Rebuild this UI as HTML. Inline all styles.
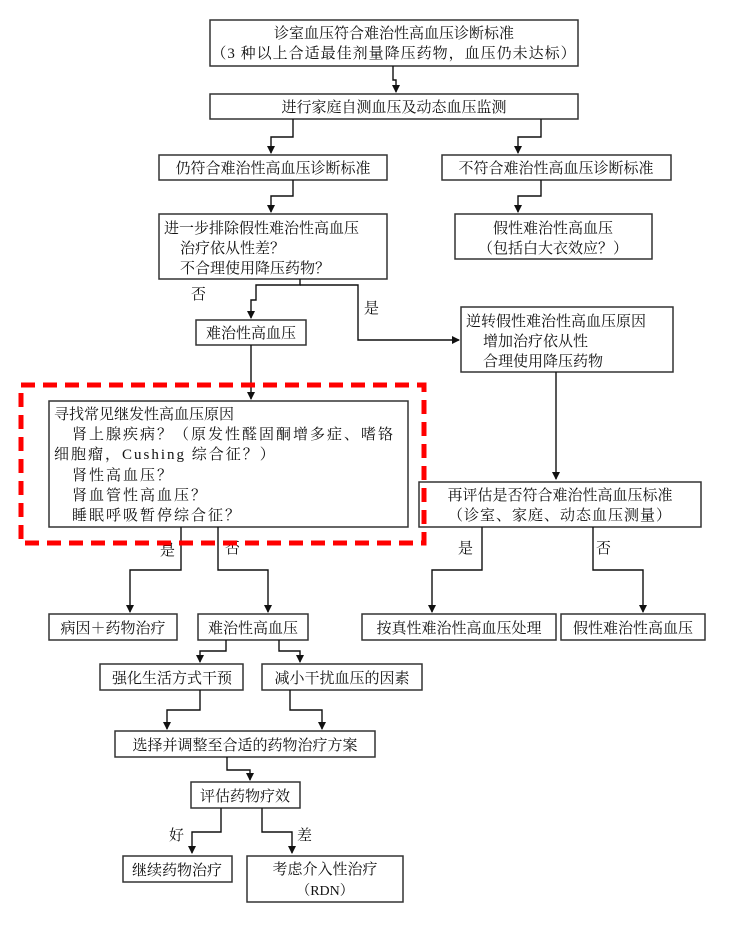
<!DOCTYPE html>
<html><head><meta charset="utf-8"><style>
html,body{margin:0;padding:0;background:#fff;}
svg{display:block;}
text{font-family:"Liberation Serif","Noto Serif CJK SC",serif;fill:#111;font-size:15px;}
.w{letter-spacing:2px;}
.b{fill:#fff;stroke:#333;stroke-width:1.5;}
.l{fill:none;stroke:#111;stroke-width:1.4;}
</style></head><body>
<svg width="744" height="928" viewBox="0 0 744 928" xmlns="http://www.w3.org/2000/svg">
<defs><marker id="a" markerWidth="8" markerHeight="8" refX="7" refY="4" orient="auto" markerUnits="userSpaceOnUse"><path d="M0,0 L8,4 L0,8 z" fill="#111"/></marker></defs>

<rect class="b" x="210" y="20" width="368" height="46"/>
<text x="394" y="38" text-anchor="middle">诊室血压符合难治性高血压诊断标准</text>
<text x="394" y="58" text-anchor="middle" style="letter-spacing:1px">（3 种以上合适最佳剂量降压药物，血压仍未达标）</text>
<path class="l" d="M393,66 V80 H396 V92" marker-end="url(#a)"/>

<rect class="b" x="210" y="94" width="368" height="25"/>
<text x="394" y="112" text-anchor="middle">进行家庭自测血压及动态血压监测</text>
<path class="l" d="M293,119 V137 H271 V153" marker-end="url(#a)"/>
<path class="l" d="M541,119 V137 H518 V153" marker-end="url(#a)"/>

<rect class="b" x="159" y="155" width="228" height="25"/>
<text x="273" y="173" text-anchor="middle">仍符合难治性高血压诊断标准</text>
<rect class="b" x="442" y="155" width="229" height="25"/>
<text x="556" y="173" text-anchor="middle">不符合难治性高血压诊断标准</text>

<path class="l" d="M293,180 V196 H271 V212" marker-end="url(#a)"/>
<path class="l" d="M541,180 V196 H518 V212" marker-end="url(#a)"/>

<rect class="b" x="159" y="214" width="228" height="65"/>
<text x="164" y="233">进一步排除假性难治性高血压</text>
<text x="180" y="253">治疗依从性差？</text>
<text x="180" y="273">不合理使用降压药物？</text>
<rect class="b" x="455" y="214" width="197" height="45"/>
<text x="553" y="233" text-anchor="middle">假性难治性高血压</text>
<text x="553" y="253" text-anchor="middle">（包括白大衣效应？）</text>

<path class="l" d="M300,279 V285 H256 V300 H251 V318" marker-end="url(#a)"/>
<path class="l" d="M300,285 H358 V340 H459" marker-end="url(#a)"/>
<text x="191" y="299">否</text>
<text x="364" y="313">是</text>

<rect class="b" x="196" y="320" width="110" height="25"/>
<text x="251" y="338" text-anchor="middle">难治性高血压</text>
<rect class="b" x="461" y="307" width="212" height="65"/>
<text x="466" y="326">逆转假性难治性高血压原因</text>
<text x="483" y="346">增加治疗依从性</text>
<text x="483" y="366">合理使用降压药物</text>

<path class="l" d="M251,345 V399" marker-end="url(#a)"/>
<path class="l" d="M556,372 V479" marker-end="url(#a)"/>

<rect class="b" x="49" y="401" width="359" height="126"/>
<text x="54" y="419">寻找常见继发性高血压原因</text>
<text class="w" x="72" y="439">肾上腺疾病？（原发性醛固酮增多症、嗜铬</text>
<text class="w" x="54" y="459">细胞瘤，Cushing 综合征？）</text>
<text class="w" x="72" y="480">肾性高血压？</text>
<text class="w" x="72" y="500">肾血管性高血压？</text>
<text class="w" x="72" y="520">睡眠呼吸暂停综合征？</text>

<rect class="b" x="419" y="482" width="282" height="45"/>
<text x="560" y="500" text-anchor="middle">再评估是否符合难治性高血压标准</text>
<text x="560" y="520" text-anchor="middle" style="letter-spacing:1px">（诊室、家庭、动态血压测量）</text>

<path class="l" d="M181,527 V570 H130 V612" marker-end="url(#a)"/>
<path class="l" d="M218,527 V570 H268 V612" marker-end="url(#a)"/>
<text x="160" y="555">是</text>
<text x="225" y="553">否</text>
<path class="l" d="M482,527 V570 H432 V612" marker-end="url(#a)"/>
<path class="l" d="M593,527 V570 H643 V612" marker-end="url(#a)"/>
<text x="458" y="553">是</text>
<text x="596" y="553">否</text>

<rect x="21" y="385" width="403" height="158" fill="none" stroke="#f00" stroke-width="5" stroke-dasharray="14,8"/>

<rect class="b" x="49" y="614" width="128" height="26"/>
<text x="113" y="633" text-anchor="middle">病因＋药物治疗</text>
<rect class="b" x="198" y="614" width="110" height="26"/>
<text x="253" y="633" text-anchor="middle">难治性高血压</text>
<rect class="b" x="362" y="614" width="194" height="26"/>
<text x="459" y="633" text-anchor="middle">按真性难治性高血压处理</text>
<rect class="b" x="561" y="614" width="144" height="26"/>
<text x="633" y="633" text-anchor="middle">假性难治性高血压</text>

<path class="l" d="M226,640 V651 H200 V662" marker-end="url(#a)"/>
<path class="l" d="M279,640 V651 H300 V662" marker-end="url(#a)"/>

<rect class="b" x="100" y="664" width="143" height="26"/>
<text x="172" y="683" text-anchor="middle">强化生活方式干预</text>
<rect class="b" x="262" y="664" width="160" height="26"/>
<text x="342" y="683" text-anchor="middle">减小干扰血压的因素</text>

<path class="l" d="M200,690 V710 H167 V729" marker-end="url(#a)"/>
<path class="l" d="M290,690 V710 H322 V729" marker-end="url(#a)"/>

<rect class="b" x="115" y="731" width="260" height="26"/>
<text x="245" y="750" text-anchor="middle">选择并调整至合适的药物治疗方案</text>
<path class="l" d="M227,757 V770 H250 V780" marker-end="url(#a)"/>

<rect class="b" x="191" y="782" width="109" height="26"/>
<text x="245" y="801" text-anchor="middle">评估药物疗效</text>
<path class="l" d="M221,808 V832 H192 V853" marker-end="url(#a)"/>
<path class="l" d="M262,808 V832 H292 V853" marker-end="url(#a)"/>
<text x="169" y="840">好</text>
<text x="297" y="840">差</text>

<rect class="b" x="123" y="856" width="109" height="26"/>
<text x="177" y="875" text-anchor="middle">继续药物治疗</text>
<rect class="b" x="247" y="856" width="156" height="46"/>
<text x="325" y="874" text-anchor="middle">考虑介入性治疗</text>
<text x="325" y="895" text-anchor="middle" style="font-size:14px">（RDN）</text>
</svg>
</body></html>
